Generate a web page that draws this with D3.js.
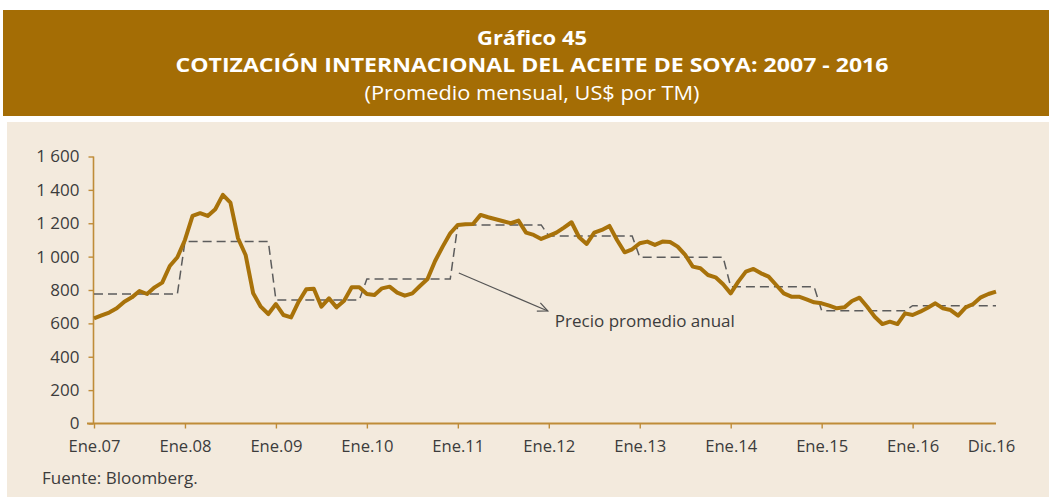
<!DOCTYPE html>
<html><head><meta charset="utf-8">
<script src="https://cdn.jsdelivr.net/npm/d3@7"></script>
<style>
html,body{margin:0;padding:0;background:#fff;}
svg{display:block;}
</style></head>
<body>
<svg id="chart" width="1049" height="497"></svg>
<script>
// Monthly international soybean oil price (US$ per TM), Jan 2007 - Dec 2016
const prices2007 = [630, 648, 665, 690, 730, 756, 794, 776, 816, 844, 944, 996];
const prices2008 = [1100, 1244, 1260, 1244, 1284, 1370, 1324, 1110, 1010, 780, 700, 656];
const prices2009 = [716, 650, 636, 730, 804, 808, 700, 750, 696, 736, 816, 816];
const prices2010 = [776, 770, 810, 820, 784, 766, 780, 824, 866, 974, 1060, 1140];
const prices2011 = [1190, 1194, 1196, 1250, 1236, 1224, 1212, 1200, 1216, 1144, 1130, 1106];
const prices2012 = [1124, 1144, 1174, 1206, 1116, 1076, 1144, 1160, 1184, 1100, 1026, 1044];
const prices2013 = [1080, 1090, 1070, 1090, 1088, 1060, 1010, 940, 930, 890, 876, 834];
const prices2014 = [780, 850, 910, 926, 900, 880, 830, 780, 760, 760, 744, 726];
const prices2015 = [720, 706, 690, 696, 734, 754, 700, 640, 596, 610, 596, 660];
const prices2016 = [650, 670, 694, 720, 690, 680, 646, 696, 716, 756, 776, 790];
// Annual average price
const annualAverage = [776, 1090, 740, 866, 1190, 1124, 996, 820, 676, 706];
// X axis tick positions (month index) and labels
const xTickIndex = [0, 12, 24, 36, 48, 60, 72, 84, 96, 108, 119];
const xTickLabels = ["Ene.07","Ene.08","Ene.09","Ene.10","Ene.11","Ene.12","Ene.13","Ene.14","Ene.15","Ene.16","Dic.16"];
const yTicks = [0, 200, 400, 600, 800, 1000, 1200, 1400, 1600];

const monthly = [].concat(prices2007, prices2008, prices2009, prices2010, prices2011,
  prices2012, prices2013, prices2014, prices2015, prices2016);
const annualMonthly = monthly.map((d, i) => annualAverage[Math.floor(i / 12)]);

const svg = d3.select("#chart");
const FONT = "'Open Sans', 'Noto Sans', sans-serif";
const HEADER = "#A46D05";
const PANEL = "#F3EADD";
const AXIS = "#BF8C38";
const TEXT = "#3C3C3C";

// header band
svg.append("rect").attr("x", 3).attr("y", 10).attr("width", 1046).attr("height", 106).attr("fill", HEADER);
svg.append("rect").attr("x", 7).attr("y", 122).attr("width", 1042).attr("height", 375).attr("fill", PANEL);

const cx = 532;
svg.append("text").attr("x", cx).attr("y", 45).attr("text-anchor", "middle")
  .attr("font-family", FONT).attr("font-weight", 700).attr("font-size", 20).attr("fill", "#fff")
  .attr("textLength", 110).attr("lengthAdjust", "spacingAndGlyphs")
  .text("Gráfico 45");
svg.append("text").attr("x", cx).attr("y", 72).attr("text-anchor", "middle")
  .attr("font-family", FONT).attr("font-weight", 700).attr("font-size", 20).attr("fill", "#fff")
  .attr("textLength", 713).attr("lengthAdjust", "spacingAndGlyphs")
  .text("COTIZACIÓN INTERNACIONAL DEL ACEITE DE SOYA: 2007 - 2016");
svg.append("text").attr("x", cx).attr("y", 100).attr("text-anchor", "middle")
  .attr("font-family", FONT).attr("font-weight", 400).attr("font-size", 20).attr("fill", "#fff")
  .attr("textLength", 335).attr("lengthAdjust", "spacingAndGlyphs")
  .text("(Promedio mensual, US$ por TM)");

const x = d3.scaleLinear().domain([0, 119]).range([94, 996]);
const y = d3.scaleLinear().domain([0, 1600]).range([423.5, 156.5]);

// y axis
const yAxis = d3.axisLeft(y).tickValues(yTicks).tickSize(5).tickPadding(9)
  .tickFormat(d => d3.format(",")(d).replace(/,/g, " "));
const gy = svg.append("g").attr("transform", "translate(93.5,0)").call(yAxis);
gy.select(".domain").attr("stroke", AXIS).attr("stroke-width", 1.6).attr("d", `M0,${y(1600)}V${y(0)}`);
gy.selectAll(".tick line").attr("stroke", AXIS).attr("stroke-width", 1.4);
gy.selectAll(".tick text").attr("font-family", FONT).attr("font-size", 17).attr("fill", TEXT);

// x axis
const xAxis = d3.axisBottom(x).tickValues(xTickIndex).tickSize(5).tickPadding(12)
  .tickFormat((d, i) => xTickLabels[i]);
const gx = svg.append("g").attr("transform", `translate(0,${y(0)})`).call(xAxis);
gx.select(".domain").attr("stroke", AXIS).attr("stroke-width", 2).attr("d", `M87,0H${x(119)}`);
gx.selectAll(".tick line").attr("stroke", AXIS).attr("stroke-width", 1.4)
  .attr("y2", d => d === 119 ? 0 : 5);
gx.selectAll(".tick text").attr("font-family", FONT).attr("font-size", 16.6).attr("fill", TEXT)
  .attr("dx", d => d === 119 ? -5 : 0);

// annual average dashed line
const line = d3.line().x((d, i) => x(i)).y(d => y(d));
svg.append("path").datum(annualMonthly).attr("d", line)
  .attr("fill", "none").attr("stroke", "#5C5C5C").attr("stroke-width", 1.5)
  .attr("stroke-dasharray", "9,5");

// monthly line
svg.append("path").datum(monthly).attr("d", line)
  .attr("fill", "none").attr("stroke", "#A8720A").attr("stroke-width", 4)
  .attr("stroke-linejoin", "round").attr("stroke-linecap", "butt");

// annotation
const ax1 = x(48) + 1, ay1 = y(annualAverage[3]) - 6;
const ax2 = ax1 + 89, ay2 = ay1 + 38;
svg.append("line").attr("x1", ax1).attr("y1", ay1).attr("x2", ax2).attr("y2", ay2)
  .attr("stroke", "#555").attr("stroke-width", 1.2);
const ang = Math.atan2(ay2 - ay1, ax2 - ax1);
const hl = 11, ha = 0.42;
svg.append("path")
  .attr("d", `M${ax2 - hl*Math.cos(ang - ha)},${ay2 - hl*Math.sin(ang - ha)}L${ax2},${ay2}L${ax2 - hl*Math.cos(ang + ha)},${ay2 - hl*Math.sin(ang + ha)}`)
  .attr("fill", "none").attr("stroke", "#555").attr("stroke-width", 1.2);
svg.append("text").attr("x", ax2 + 7).attr("y", ay2 + 16)
  .attr("font-family", FONT).attr("font-size", 17).attr("fill", TEXT)
  .text("Precio promedio anual");

// source
svg.append("text").attr("x", 42).attr("y", 484)
  .attr("font-family", FONT).attr("font-size", 17).attr("fill", TEXT)
  .text("Fuente: Bloomberg.");
</script>
</body></html>
